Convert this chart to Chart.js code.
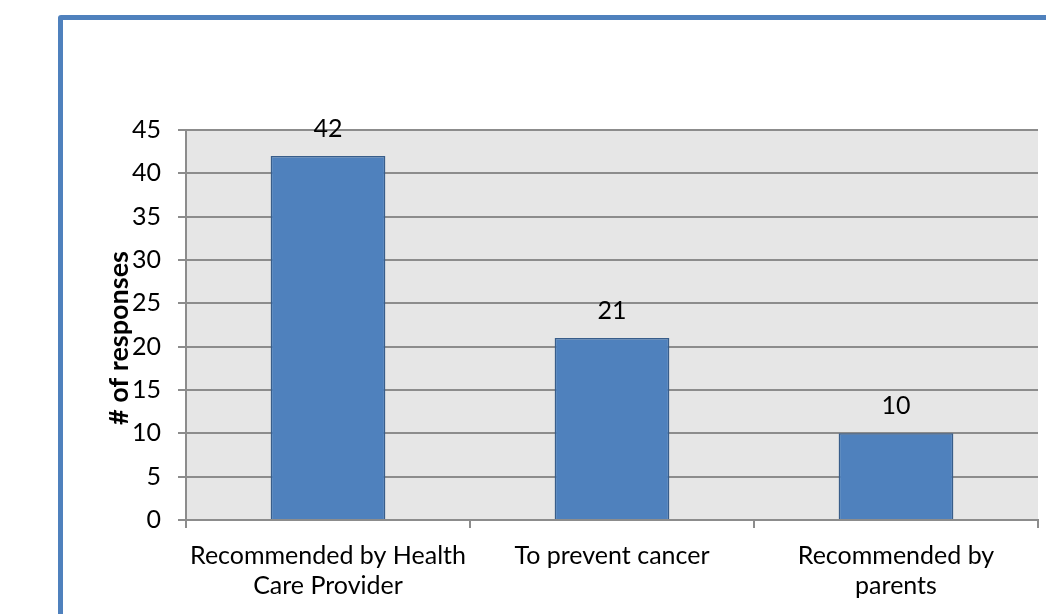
<!DOCTYPE html>
<html>
<head>
  <meta charset="UTF-8">
  <title>Reasons for vaccination</title>
  <script src="https://cdn.jsdelivr.net/npm/chart.js"></script>
  <style>
    body { margin: 0; overflow: hidden; background: #fff; }
    .frame { position: absolute; left: 58px; top: 15px; width: 1100px; height: 700px;
             border: 5px solid #4f81bd; border-radius: 3px; }
    #chart { position: absolute; left: 0; top: 0; }
  </style>
</head>
<body>
  <div class="frame"></div>
  <canvas id="chart" width="1046" height="614"></canvas>

  <script>
    const categories = [['Recommended by Health', 'Care Provider'], 'To prevent cancer', ['Recommended by', 'parents']];
    const responses = [42, 21, 10];
    const yTicks = { min: 0, max: 45, step: 5 };
    const yTitle = '# of responses';

    const FONT = 'Lato, "Open Sans", sans-serif';

    // grey plot background
    const plotBg = {
      id: 'plotBg',
      beforeDraw(chart) {
        const { ctx, chartArea: a } = chart;
        ctx.save();
        ctx.fillStyle = '#e6e6e6';
        ctx.fillRect(a.left, a.top, a.right - a.left, a.bottom - a.top);
        ctx.restore();
      }
    };

    // value labels above bars + rotated y title
    const extras = {
      id: 'extras',
      afterDatasetsDraw(chart) {
        const ctx = chart.ctx;
        ctx.save();
        ctx.fillStyle = '#000';
        ctx.font = '25px ' + FONT;
        ctx.textAlign = 'center';
        ctx.textBaseline = 'alphabetic';
        chart.getDatasetMeta(0).data.forEach((bar, i) => {
          ctx.fillText(String(responses[i]), bar.x, bar.y - 19);
        });
        ctx.translate(119, 338);
        ctx.rotate(-Math.PI / 2);
        ctx.font = 'bold 27px ' + FONT;
        ctx.textBaseline = 'middle';
        ctx.fillText(yTitle, 0, 0);
        ctx.restore();
      }
    };

    new Chart(document.getElementById('chart'), {
      type: 'bar',
      data: {
        labels: categories,
        datasets: [{
          data: responses,
          backgroundColor: '#4f81bd',
          borderColor: '#385d8a',
          borderWidth: 1.5,
          categoryPercentage: 1,
          barPercentage: 0.404
        }]
      },
      options: {
        responsive: false,
        animation: false,
        layout: { padding: { top: 130, right: 8, left: 0, bottom: 0 } },
        plugins: { legend: { display: false }, tooltip: { enabled: false } },
        scales: {
          x: {
            grid: { offset: true, drawOnChartArea: false, color: '#8c8c8c', lineWidth: 2, tickLength: 8 },
            border: { color: '#8c8c8c', width: 2 },
            ticks: { color: '#000', font: { family: FONT, size: 25 }, padding: 13, maxRotation: 0, autoSkip: false },
            afterFit(scale) { scale.height = 94; }
          },
          y: {
            min: yTicks.min,
            max: yTicks.max,
            grid: { color: '#8c8c8c', lineWidth: 2, tickLength: 8 },
            border: { color: '#8c8c8c', width: 2 },
            ticks: { stepSize: yTicks.step, color: '#000', font: { family: FONT, size: 25 }, padding: 17 },
            afterFit(scale) { scale.width = 186; }
          }
        }
      },
      plugins: [plotBg, extras]
    });
  </script>
</body>
</html>
